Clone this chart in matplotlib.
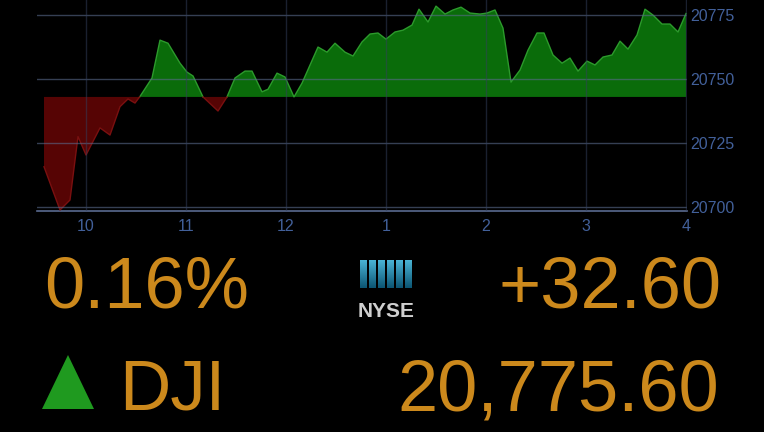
import numpy as np
import matplotlib
matplotlib.use("Agg")
import matplotlib.pyplot as plt

# intraday DJI values (time in decimal hours)
times = [9.58, 9.74, 9.84, 9.92, 10.00, 10.14, 10.24, 10.34, 10.42, 10.49,
         10.54, 10.66, 10.74, 10.82, 10.94, 11.01, 11.07, 11.17, 11.32, 11.41,
         11.49, 11.59, 11.66, 11.76, 11.82, 11.91, 11.99, 12.08, 12.16, 12.32,
         12.41, 12.49, 12.59, 12.67, 12.76, 12.84, 12.92, 13.00, 13.09, 13.17,
         13.26, 13.33, 13.42, 13.50, 13.59, 13.67, 13.75, 13.84, 13.94, 14.01,
         14.09, 14.17, 14.25, 14.34, 14.42, 14.51, 14.58, 14.67, 14.76, 14.84,
         14.92, 15.01, 15.09, 15.17, 15.26, 15.34, 15.42, 15.51, 15.59, 15.67,
         15.76, 15.84, 15.92, 16.00]
values = [20715.7, 20698.8, 20702.7, 20727.5, 20720.3, 20730.9, 20728.1, 20739.2, 20742.2, 20740.6,
          20743.2, 20750.4, 20765.2, 20764.0, 20756.2, 20752.7, 20751.2, 20743.0, 20737.5, 20743.0,
          20750.4, 20753.1, 20753.1, 20745.0, 20746.0, 20752.3, 20750.8, 20743.0, 20748.4, 20762.5,
          20760.5, 20764.0, 20760.5, 20759.0, 20764.5, 20767.6, 20768.0, 20765.6, 20768.4, 20769.1,
          20771.1, 20777.3, 20772.3, 20778.5, 20775.4, 20777.0, 20778.1, 20775.8, 20775.4, 20775.8,
          20777.0, 20769.9, 20748.8, 20753.5, 20761.3, 20768.0, 20768.0, 20759.4, 20756.2, 20758.2,
          20753.1, 20757.0, 20755.5, 20758.6, 20759.4, 20764.8, 20761.7, 20767.2, 20777.3, 20775.0,
          20771.5, 20771.5, 20768.4, 20775.6]

prev_close = 20743.0
hour_ticks = [10, 11, 12, 13, 14, 15, 16]
hour_labels = ["10", "11", "12", "1", "2", "3", "4"]
price_ticks = [20700, 20725, 20750, 20775]

pct_change = "0.16%"
net_change = "+32.60"
symbol = "DJI"
last_price = "20,775.60"

orange = "#cc891c"
tick_col = "#42609a"

plt.rcParams["font.family"] = ["Liberation Sans", "DejaVu Sans"]

fig = plt.figure(figsize=(7.64, 4.32), dpi=100, facecolor="black")

W, H = 764, 432
# chart area in pixels: x 37..687, y 0..211
ax = fig.add_axes([37 / W, 1 - 211 / H, 650 / W, 211 / H])
ax.set_facecolor("black")

t = np.array(times)
v = np.array(values)

# add the points where the line crosses the previous close so both colours meet there
tt, vv = [t[0]], [v[0]]
for i in range(1, len(t)):
    a, b = v[i - 1] - prev_close, v[i] - prev_close
    if a * b < 0:
        f = a / (a - b)
        tt.append(t[i - 1] + f * (t[i] - t[i - 1]))
        vv.append(prev_close)
    tt.append(t[i])
    vv.append(v[i])
tt, vv = np.array(tt), np.array(vv)

ax.fill_between(tt, prev_close, vv, where=vv >= prev_close,
                color="#0a6c0a", lw=0, zorder=2)
ax.fill_between(tt, prev_close, vv, where=vv <= prev_close,
                color="#560404", lw=0, zorder=2)

ax.plot(tt, np.where(vv >= prev_close, vv, np.nan), color="#2c9a2c", lw=1.0, zorder=3)
ax.plot(tt, np.where(vv <= prev_close, vv, np.nan), color="#7a1010", lw=1.0, zorder=3)

ax.set_xlim(9.51, 16.01)
ax.set_ylim(20698.4, 20780.9)

# grid sits over the fill, as on the screen
for y in price_ticks:
    ax.axhline(y, color="#5a6a8c", lw=1.0, alpha=0.6, zorder=4)
for x in hour_ticks:
    ax.axvline(x, color="#34405e", lw=1.0, alpha=0.5, zorder=4)

for s in ["top", "left", "right"]:
    ax.spines[s].set_visible(False)
ax.spines["bottom"].set_color("#5a6a90")
ax.spines["bottom"].set_linewidth(1.2)

ax.set_xticks(hour_ticks)
ax.set_xticklabels(hour_labels)
ax.set_yticks(price_ticks)
ax.set_yticklabels([str(p) for p in price_ticks])
ax.yaxis.tick_right()
ax.tick_params(axis="both", length=0, colors=tick_col, labelsize=11.5)
ax.tick_params(axis="x", pad=6)
ax.tick_params(axis="y", pad=2)

# overlay in pixel coordinates for the ticker board
ov = fig.add_axes([0, 0, 1, 1])
ov.set_xlim(0, W)
ov.set_ylim(H, 0)
ov.axis("off")
ov.patch.set_alpha(0)

ov.text(44, 307, pct_change, color=orange, fontsize=52, ha="left", va="baseline")
ov.text(722, 307, net_change, color=orange, fontsize=52, ha="right", va="baseline")
ov.text(119, 409, symbol, color=orange, fontsize=51, ha="left", va="baseline")
ov.text(719, 410, last_price, color=orange, fontsize=52, ha="right", va="baseline")

# green up triangle
ov.add_patch(plt.Polygon([[42, 409], [94, 409], [68, 355]], closed=True,
                         color="#1f9a1f", lw=0))

# NYSE logo: six gradient bars and the wordmark
grad = np.linspace(0, 1, 64).reshape(-1, 1)
cmap = matplotlib.colors.LinearSegmentedColormap.from_list("nyse", ["#4ab4d4", "#0c5674"])
for i in range(6):
    x0 = 360 + i * 9
    ov.imshow(grad, cmap=cmap, aspect="auto", extent=[x0, x0 + 7, 288, 260], zorder=2)
ov.set_xlim(0, W)
ov.set_ylim(H, 0)
ov.text(386, 317, "NYSE", color="#cfcfcf", fontsize=15, fontweight="bold",
        ha="center", va="baseline")

fig.savefig("out.png", dpi=100, facecolor="black")
